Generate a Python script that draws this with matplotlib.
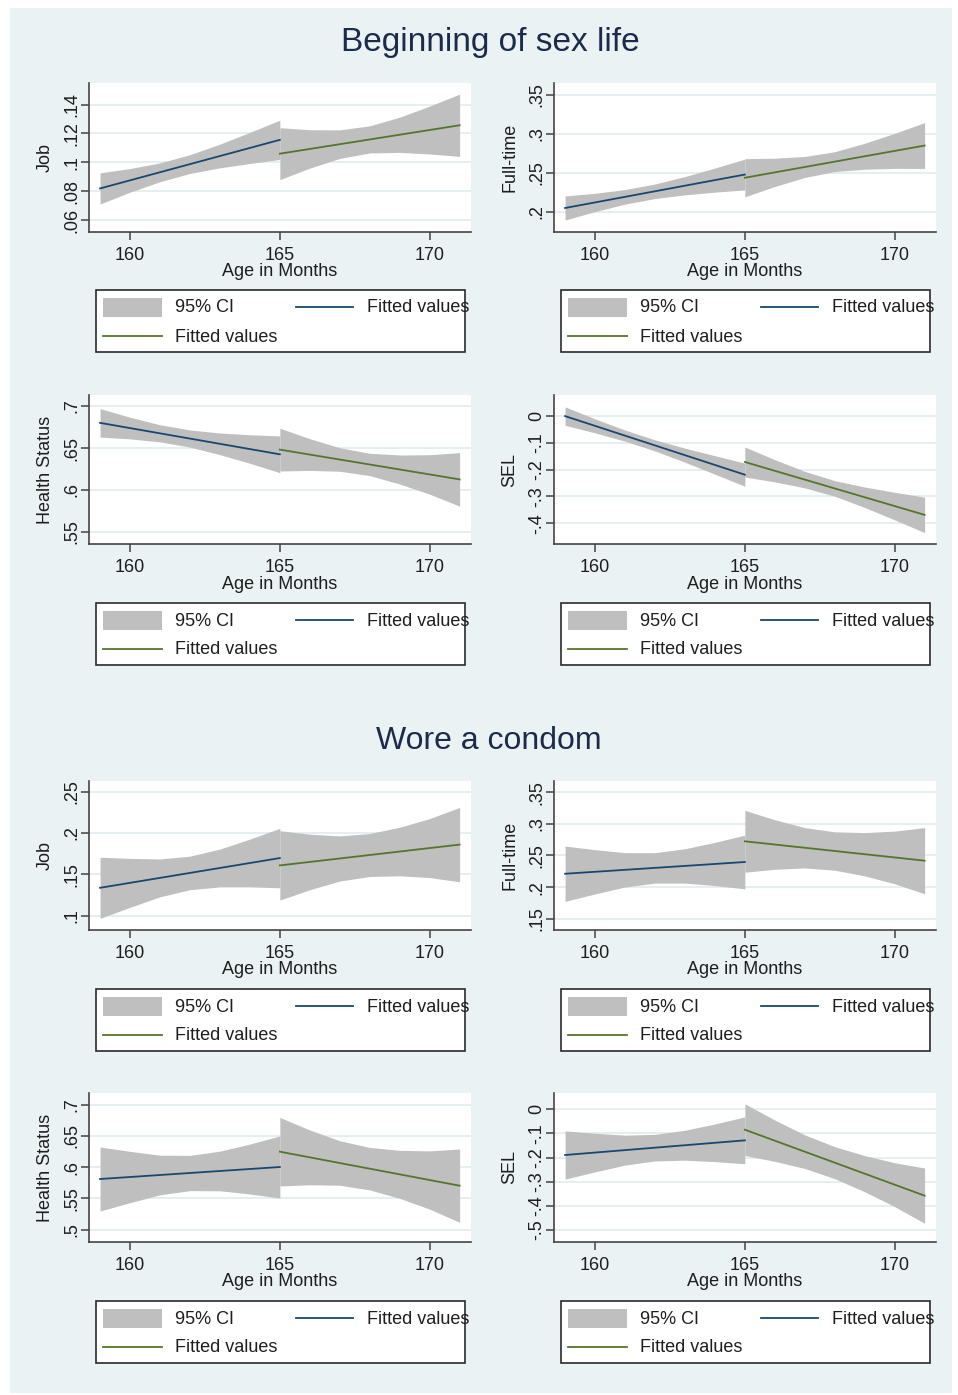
import matplotlib.pyplot as plt
from matplotlib.patches import Rectangle
from matplotlib.lines import Line2D

plt.rcParams['font.family'] = ['Liberation Sans', 'DejaVu Sans']

W, H = 958, 1395

# ages (months) where the bands were read
age_a = [159, 160, 161, 162, 163, 164, 165]
age_b = [165, 166, 167, 168, 169, 170, 171]
x_ticks = [160, 165, 170]

# ---------- Beginning of sex life ----------
job1_fit_a = [0.0819, 0.1156]
job1_lo_a = [0.0711, 0.0793, 0.0866, 0.0923, 0.0962, 0.0992, 0.1020]
job1_hi_a = [0.0927, 0.0957, 0.0996, 0.1053, 0.1126, 0.1208, 0.1292]
job1_fit_b = [0.1060, 0.1257]
job1_lo_b = [0.0880, 0.0960, 0.1027, 0.1065, 0.1069, 0.1058, 0.1041]
job1_hi_b = [0.1240, 0.1226, 0.1225, 0.1253, 0.1313, 0.1390, 0.1473]

ft1_fit_a = [0.2051, 0.2479]
ft1_lo_a = [0.1897, 0.2005, 0.2101, 0.2172, 0.2219, 0.2254, 0.2282]
ft1_hi_a = [0.2205, 0.2239, 0.2287, 0.2358, 0.2453, 0.2562, 0.2676]
ft1_fit_b = [0.2438, 0.2850]
ft1_lo_b = [0.2194, 0.2326, 0.2442, 0.2517, 0.2547, 0.2558, 0.2557]
ft1_hi_b = [0.2682, 0.2688, 0.2710, 0.2771, 0.2879, 0.3006, 0.3143]

hs1_fit_a = [0.6800, 0.6425]
hs1_lo_a = [0.6630, 0.6609, 0.6573, 0.6511, 0.6421, 0.6318, 0.6206]
hs1_hi_a = [0.6970, 0.6867, 0.6777, 0.6715, 0.6679, 0.6658, 0.6644]
hs1_fit_b = [0.6481, 0.6126]
hs1_lo_b = [0.6226, 0.6233, 0.6223, 0.6171, 0.6071, 0.5950, 0.5807]
hs1_hi_b = [0.6736, 0.6611, 0.6503, 0.6437, 0.6417, 0.6420, 0.6445]

sel1_fit_a = [0.0, -0.2188]
sel1_lo_a = [-0.0345, -0.0627, -0.0936, -0.1301, -0.1721, -0.2168, -0.2619]
sel1_hi_a = [0.0345, -0.0103, -0.0522, -0.0887, -0.1197, -0.1478, -0.1757]
sel1_fit_b = [-0.1713, -0.3688]
sel1_lo_b = [-0.2273, -0.2456, -0.2679, -0.2991, -0.3410, -0.3874, -0.4349]
sel1_hi_b = [-0.1153, -0.1628, -0.2063, -0.2409, -0.2648, -0.2844, -0.3027]

# ---------- Wore a condom ----------
job2_fit_a = [0.1337, 0.1697]
job2_lo_a = [0.0967, 0.1101, 0.1228, 0.1314, 0.1348, 0.1348, 0.1337]
job2_hi_a = [0.1707, 0.1693, 0.1686, 0.1720, 0.1806, 0.1926, 0.2057]
job2_fit_b = [0.1608, 0.1860]
job2_lo_b = [0.1188, 0.1314, 0.1419, 0.1474, 0.1482, 0.1461, 0.1410]
job2_hi_b = [0.2028, 0.1986, 0.1965, 0.1994, 0.2070, 0.2175, 0.2310]

ft2_fit_a = [0.2211, 0.2397]
ft2_lo_a = [0.1773, 0.1892, 0.2001, 0.2063, 0.2063, 0.2024, 0.1972]
ft2_hi_a = [0.2649, 0.2592, 0.2545, 0.2545, 0.2607, 0.2708, 0.2822]
ft2_fit_b = [0.2725, 0.2418]
ft2_lo_b = [0.2235, 0.2282, 0.2303, 0.2267, 0.2177, 0.2052, 0.1894]
ft2_hi_b = [0.3215, 0.3066, 0.2941, 0.2875, 0.2863, 0.2886, 0.2942]

hs2_fit_a = [0.5811, 0.6003]
hs2_lo_a = [0.5299, 0.5433, 0.5558, 0.5625, 0.5622, 0.5572, 0.5506]
hs2_hi_a = [0.6323, 0.6253, 0.6192, 0.6189, 0.6256, 0.6370, 0.6500]
hs2_fit_b = [0.6248, 0.5704]
hs2_lo_b = [0.5700, 0.5719, 0.5711, 0.5636, 0.5501, 0.5329, 0.5118]
hs2_hi_b = [0.6796, 0.6595, 0.6423, 0.6316, 0.6269, 0.6261, 0.6290]

sel2_fit_a = [-0.1892, -0.1285]
sel2_lo_a = [-0.2892, -0.2591, -0.2310, -0.2138, -0.2107, -0.2166, -0.2255]
sel2_hi_a = [-0.0892, -0.0991, -0.1070, -0.1038, -0.0867, -0.0606, -0.0315]
sel2_fit_b = [-0.0843, -0.3577]
sel2_lo_b = [-0.1913, -0.2155, -0.2451, -0.2873, -0.3415, -0.4032, -0.4722]
sel2_hi_b = [0.0227, -0.0443, -0.1059, -0.1547, -0.1917, -0.2212, -0.2432]

# y axes: ticks and Stata style labels
job1_ticks = [0.06, 0.08, 0.10, 0.12, 0.14]
job1_labels = ['.06', '.08', '.1', '.12', '.14']
ft1_ticks = [0.20, 0.25, 0.30, 0.35]
ft1_labels = ['.2', '.25', '.3', '.35']
hs1_ticks = [0.55, 0.60, 0.65, 0.70]
hs1_labels = ['.55', '.6', '.65', '.7']
sel1_ticks = [-0.4, -0.3, -0.2, -0.1, 0.0]
sel1_labels = ['-.4', '-.3', '-.2', '-.1', '0']
job2_ticks = [0.10, 0.15, 0.20, 0.25]
job2_labels = ['.1', '.15', '.2', '.25']
ft2_ticks = [0.15, 0.20, 0.25, 0.30, 0.35]
ft2_labels = ['.15', '.2', '.25', '.3', '.35']
hs2_ticks = [0.50, 0.55, 0.60, 0.65, 0.70]
hs2_labels = ['.5', '.55', '.6', '.65', '.7']
sel2_ticks = [-0.5, -0.4, -0.3, -0.2, -0.1, 0.0]
sel2_labels = ['-.5', '-.4', '-.3', '-.2', '-.1', '0']

titles = ['Beginning of sex life', 'Wore a condom']

BG = '#eaf2f3'
CI = '#bfbfbf'
BLUE = '#1a476f'
GREEN = '#55752f'
AXC = '#444444'
TXT = '#1e1e1e'

# (row top px, col left px, ylabel, ylim, ticks, labels, data)
panels = [
    (83, 89, 'Job', (0.0517, 0.155), job1_ticks, job1_labels,
     (job1_fit_a, job1_lo_a, job1_hi_a, job1_fit_b, job1_lo_b, job1_hi_b)),
    (83, 554, 'Full-time', (0.1744, 0.365), ft1_ticks, ft1_labels,
     (ft1_fit_a, ft1_lo_a, ft1_hi_a, ft1_fit_b, ft1_lo_b, ft1_hi_b)),
    (395, 89, 'Health Status', (0.5356, 0.7132), hs1_ticks, hs1_labels,
     (hs1_fit_a, hs1_lo_a, hs1_hi_a, hs1_fit_b, hs1_lo_b, hs1_hi_b)),
    (395, 554, 'SEL', (-0.4775, 0.0788), sel1_ticks, sel1_labels,
     (sel1_fit_a, sel1_lo_a, sel1_hi_a, sel1_fit_b, sel1_lo_b, sel1_hi_b)),
    (781, 89, 'Job', (0.0826, 0.263), job2_ticks, job2_labels,
     (job2_fit_a, job2_lo_a, job2_hi_a, job2_fit_b, job2_lo_b, job2_hi_b)),
    (781, 554, 'Full-time', (0.132, 0.368), ft2_ticks, ft2_labels,
     (ft2_fit_a, ft2_lo_a, ft2_hi_a, ft2_fit_b, ft2_lo_b, ft2_hi_b)),
    (1093, 89, 'Health Status', (0.4803, 0.7187), hs2_ticks, hs2_labels,
     (hs2_fit_a, hs2_lo_a, hs2_hi_a, hs2_fit_b, hs2_lo_b, hs2_hi_b)),
    (1093, 554, 'SEL', (-0.5497, 0.0677), sel2_ticks, sel2_labels,
     (sel2_fit_a, sel2_lo_a, sel2_hi_a, sel2_fit_b, sel2_lo_b, sel2_hi_b)),
]
legend_tops = [290, 290, 603, 603, 989, 989, 1301, 1301]

fig = plt.figure(figsize=(W / 100, H / 100), dpi=100)
fig.patch.set_facecolor('white')
fig.add_artist(Rectangle((10 / W, 1 - 1393 / H), 942 / W, 1385 / H,
                         transform=fig.transFigure, fc=BG, ec='none', zorder=-10))


def px(x, y):
    return x / W, 1 - y / H


def draw_legend(L, T):
    fig.add_artist(Rectangle(px(L, T + 62), 369 / W, 62 / H, transform=fig.transFigure,
                             fc='white', ec='#2a2a2a', lw=1.2, zorder=2))
    fig.add_artist(Rectangle(px(L + 7, T + 27), 59 / W, 19 / H, transform=fig.transFigure,
                             fc=CI, ec='none', zorder=3))
    for (x0, x1, y, c) in [(L + 200, L + 257, T + 17, BLUE), (L + 7, L + 66, T + 46, GREEN)]:
        fig.add_artist(Line2D([x0 / W, x1 / W], [1 - y / H, 1 - y / H],
                              transform=fig.transFigure, color=c, lw=1.3, zorder=3))
    for (x, y, s) in [(L + 79, T + 18, '95% CI'), (L + 271, T + 18, 'Fitted values'),
                      (L + 79, T + 47, 'Fitted values')]:
        fig.text(*px(x, y), s, ha='left', va='center', fontsize=13, color=TXT, zorder=4)


for (top, left, ylab, ylim, ticks, labels, d), ltop in zip(panels, legend_tops):
    ax = fig.add_axes([left / W, 1 - (top + 149) / H, 382 / W, 149 / H])
    ax.set_facecolor('white')
    fit_a, lo_a, hi_a, fit_b, lo_b, hi_b = d
    ax.fill_between(age_a, lo_a, hi_a, color=CI, lw=0, zorder=2)
    ax.fill_between(age_b, lo_b, hi_b, color=CI, lw=0, zorder=2)
    ax.plot([age_a[0], age_a[-1]], fit_a, color=BLUE, lw=1.3, zorder=3)
    ax.plot([age_b[0], age_b[-1]], fit_b, color=GREEN, lw=1.3, zorder=3)

    ax.set_xlim(158.63, 171.38)
    ax.set_ylim(*ylim)
    ax.set_xticks(x_ticks)
    ax.set_xticklabels([str(t) for t in x_ticks], fontsize=13, color=TXT)
    ax.set_yticks(ticks)
    ax.set_yticklabels(labels, fontsize=13, color=TXT, rotation=90, va='center')
    ax.yaxis.grid(True, color='#e3edef', lw=1.3, zorder=0)
    ax.set_axisbelow(True)
    for s in ['top', 'right']:
        ax.spines[s].set_visible(False)
    for s in ['left', 'bottom']:
        ax.spines[s].set_color(AXC)
        ax.spines[s].set_linewidth(1.2)
    ax.tick_params(axis='both', colors=AXC, length=5.5, width=1.1)
    ax.tick_params(axis='x', pad=5.5, labelcolor=TXT)
    ax.tick_params(axis='y', pad=0.5, labelcolor=TXT)

    ax.set_xlabel('Age in Months', fontsize=13, color=TXT, va='center')
    ax.xaxis.set_label_coords(0.5, -40 / 149)
    ax.set_ylabel(ylab, fontsize=13, color=TXT, va='center')
    ax.yaxis.set_label_coords(-44 / 382, 0.5)

    draw_legend(left + 7, ltop)

fig.text(*px(490, 42), titles[0], ha='center', va='center', fontsize=24, color='#1c2a4c')
fig.text(*px(489, 741), titles[1], ha='center', va='center', fontsize=23, color='#1c2a4c')

fig.savefig('out.png', dpi=100, facecolor='white')
